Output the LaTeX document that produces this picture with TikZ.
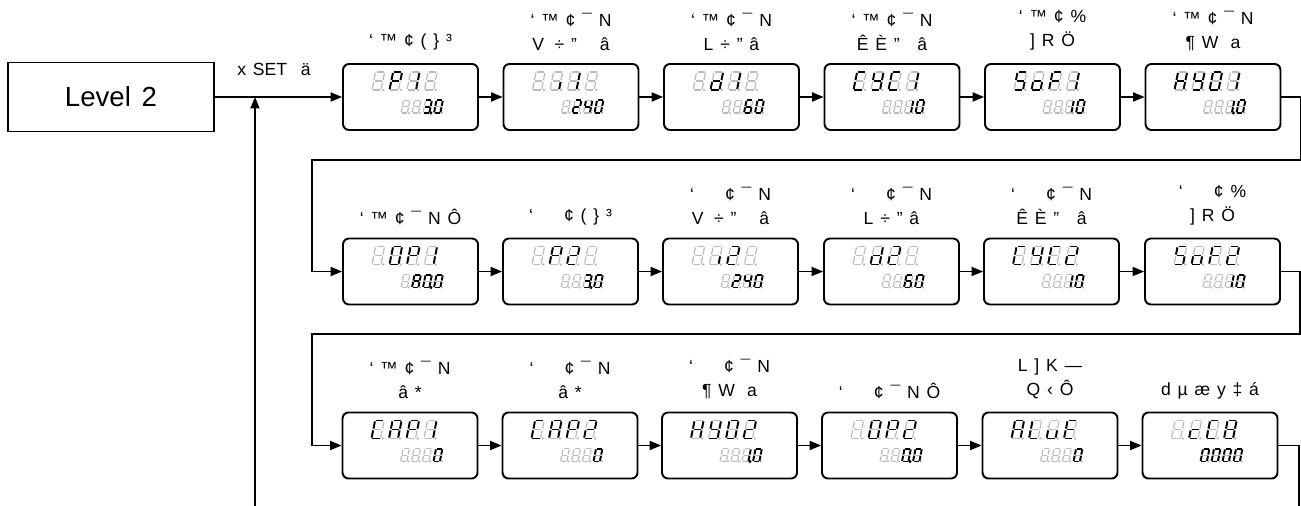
\documentclass[tikz,border=0pt]{standalone}
\usepackage{fontspec}
\setmainfont{Liberation Sans}[WordSpace=1.4]
\usepackage{tikz}
\usetikzlibrary{arrows.meta}
\definecolor{segoff}{RGB}{188,188,188}
\def\segpa{(0.1,2)--(0.9,2)}
\def\segpb{(1,1.9)--(1,1.1)}
\def\segpc{(1,0.9)--(1,0.1)}
\def\segpd{(0.1,0)--(0.9,0)}
\def\segpe{(0,0.9)--(0,0.1)}
\def\segpf{(0,1.9)--(0,1.1)}
\def\segpg{(0.1,1)--(0.9,1)}
\def\segpp{(1.25,0) circle[radius=0.05]}
\def\litsegs#1{\ifx#1\relax\else\ifx#1n\else\draw[segon]\csname segp#1\endcsname;\fi\expandafter\litsegs\fi}
\newcommand\segdigit[3]{\begin{scope}[shift={#1},x=#2,y=#2,xslant=0.2]
\foreach \q in {a,b,c,d,e,f,g,p} \draw[segdim] \csname segp\q\endcsname;
\expandafter\litsegs#3\relax
\end{scope}}
\newcommand\panel[3]{\begin{scope}[shift={(#1.center)}]
\foreach \s [count=\i] in {#2} {\segdigit{(\i*17.5-56,-7)}{0.18cm}{\s}}
\foreach \s [count=\i] in {#3} {\segdigit{(\i*11-20.5,16)}{0.127cm}{\s}}
\end{scope}}
\tikzset{
lvl/.style={draw,line width=1.1pt,minimum width=4.12cm,minimum height=1.38cm,font=\fontsize{15.7}{18}\selectfont},
disp/.style={draw,line width=1.1pt,rounded corners=3.4pt,minimum width=2.7cm,minimum height=1.32cm},
lbl/.style={anchor=south,inner sep=0pt,yshift=7pt,align=center,font=\fontsize{10}{13.6}\selectfont},
link/.style={line width=0.75pt,-{Stealth[length=6.5pt,width=5.2pt,inset=0pt]}},
wire/.style={line width=0.75pt},
segon/.style={line width=1.1pt,black},
segdim/.style={line width=0.7pt,segoff}
}
\begin{document}
\begin{tikzpicture}[x=0.02cm,y=-0.02cm]
\useasboundingbox (0,0) rectangle (1301,506);
\node[lvl] (lvl) at (111,97) {Level 2};
\node[font=\fontsize{10}{12}\selectfont] (setl) at (274,69) {x SET \ ä};
\node[disp] (b1) at (410.5,97) {}; \node[lbl] (t1) at (b1.north) {‘ ™ ¢ ( \} ³}; \panel{b1}{n,abefg,bc,n}{n,n,abcdgp,abcdef}
\node[disp] (b2) at (571,97) {}; \node[lbl] (t2) at (b2.north) {‘ ™ ¢ ¯ N\\V\hspace{6pt}÷ "\hspace{13pt}â}; \panel{b2}{n,c,bc,n}{n,abdeg,bcfg,abcdef}
\node[disp] (b3) at (731.5,97) {}; \node[lbl] (t3) at (b3.north) {‘ ™ ¢ ¯ N\\L ÷ " â}; \panel{b3}{n,bcdeg,bc,n}{n,n,acdefg,abcdef}
\node[disp] (b4) at (892,97) {}; \node[lbl] (t4) at (b4.north) {‘ ™ ¢ ¯ N\\Ê È "\hspace{10pt}â}; \panel{b4}{adef,bcdfg,adef,bc}{n,n,bc,abcdef}
\node[disp] (b5) at (1052.5,97) {}; \node[lbl] (t5) at (b5.north) {‘ ™ ¢ \%\\] R Ö}; \panel{b5}{acdfg,cdeg,aefg,bc}{n,n,bc,abcdef}
\node[disp] (b6) at (1213,97) {}; \node[lbl] (t6) at (b6.north) {‘ ™ ¢ ¯ N\\¶ W\hspace{7pt}a}; \panel{b6}{bcefg,bcdfg,abcdef,bc}{n,n,bcp,abcdef}
\node[disp] (b7) at (410.5,271.5) {}; \node[lbl] (t7) at (b7.north) {‘ ™ ¢ ¯ N Ô}; \panel{b7}{n,abcdef,abefg,bc}{n,abcdefg,abcdefp,abcdef}
\node[disp] (b8) at (570.5,271.5) {}; \node[lbl] (t8) at (b8.north) {‘ \phantom{™} ¢ ( \} ³}; \panel{b8}{n,abefg,abdeg,n}{n,n,abcdgp,abcdef}
\node[disp] (b9) at (730.5,271.5) {}; \node[lbl] (t9) at (b9.north) {‘ \phantom{™} ¢ ¯ N\\V\hspace{6pt}÷ "\hspace{13pt}â}; \panel{b9}{n,c,abdeg,n}{n,abdeg,bcfg,abcdef}
\node[disp] (b10) at (891.5,271.5) {}; \node[lbl] (t10) at (b10.north) {‘ \phantom{™} ¢ ¯ N\\L ÷ " â}; \panel{b10}{n,bcdeg,abdeg,n}{n,n,acdefg,abcdef}
\node[disp] (b11) at (1051.5,271.5) {}; \node[lbl] (t11) at (b11.north) {‘ \phantom{™} ¢ ¯ N\\Ê È "\hspace{10pt}â}; \panel{b11}{adef,bcdfg,adef,abdeg}{n,n,bc,abcdef}
\node[disp] (b12) at (1212.5,271.5) {}; \node[lbl] (t12) at (b12.north) {‘ \phantom{™} ¢ \%\\] R Ö}; \panel{b12}{acdfg,cdeg,aefg,abdeg}{n,n,bc,abcdef}
\node[disp] (b13) at (410,445.5) {}; \node[lbl] (t13) at (b13.north) {‘ ™ ¢ ¯ N\\â *}; \panel{b13}{adef,abcefg,abefg,bc}{n,n,n,abcdef}
\node[disp] (b14) at (570,445.5) {}; \node[lbl] (t14) at (b14.north) {‘ \phantom{™} ¢ ¯ N\\â *}; \panel{b14}{adef,abcefg,abefg,abdeg}{n,n,n,abcdef}
\node[disp] (b15) at (729.5,445.5) {}; \node[lbl] (t15) at (b15.north) {‘ \phantom{™} ¢ ¯ N\\¶ W\hspace{7pt}a}; \panel{b15}{bcefg,bcdfg,abcdef,abdeg}{n,n,bcp,abcdef}
\node[disp] (b16) at (889.5,445.5) {}; \node[lbl] (t16) at (b16.north) {‘ \phantom{™} ¢ ¯ N Ô}; \panel{b16}{n,abcdef,abefg,abdeg}{n,n,abcdefp,abcdef}
\node[disp] (b17) at (1050,445.5) {}; \node[lbl] (t17) at (b17.north) {L ] K —\\Q ‹ Ô}; \panel{b17}{abcefg,def,cde,adefg}{n,n,n,abcdef}
\node[disp] (b18) at (1210,445.5) {}; \node[lbl] (t18) at (b18.north) {d µ æ y ‡ á}; \panel{b18}{n,deg,adef,abcdefg}{abcdef,abcdef,abcdef,abcdef}
\coordinate (r1) at (312,160);
\coordinate (r2) at (312,334);
\coordinate (outR) at (1299,506);
\coordinate (inL) at (255,506);
\draw[link] (lvl.east) -- (b1.west);
\draw[link] (b1.east) -- (b2.west);
\draw[link] (b2.east) -- (b3.west);
\draw[link] (b3.east) -- (b4.west);
\draw[link] (b4.east) -- (b5.west);
\draw[link] (b5.east) -- (b6.west);
\draw[link] (b6.east) -- ++(19,0) |- (r1) |- (b7.west);
\draw[link] (b7.east) -- (b8.west);
\draw[link] (b8.east) -- (b9.west);
\draw[link] (b9.east) -- (b10.west);
\draw[link] (b10.east) -- (b11.west);
\draw[link] (b11.east) -- (b12.west);
\draw[link] (b12.east) -- ++(19,0) |- (r2) |- (b13.west);
\draw[link] (b13.east) -- (b14.west);
\draw[link] (b14.east) -- (b15.west);
\draw[link] (b15.east) -- (b16.west);
\draw[link] (b16.east) -- (b17.west);
\draw[link] (b17.east) -- (b18.west);
\draw[wire] (b18.east) -| (outR);
\draw[link] (inL) -- (inL |- lvl.east);
\end{tikzpicture}
\end{document}
